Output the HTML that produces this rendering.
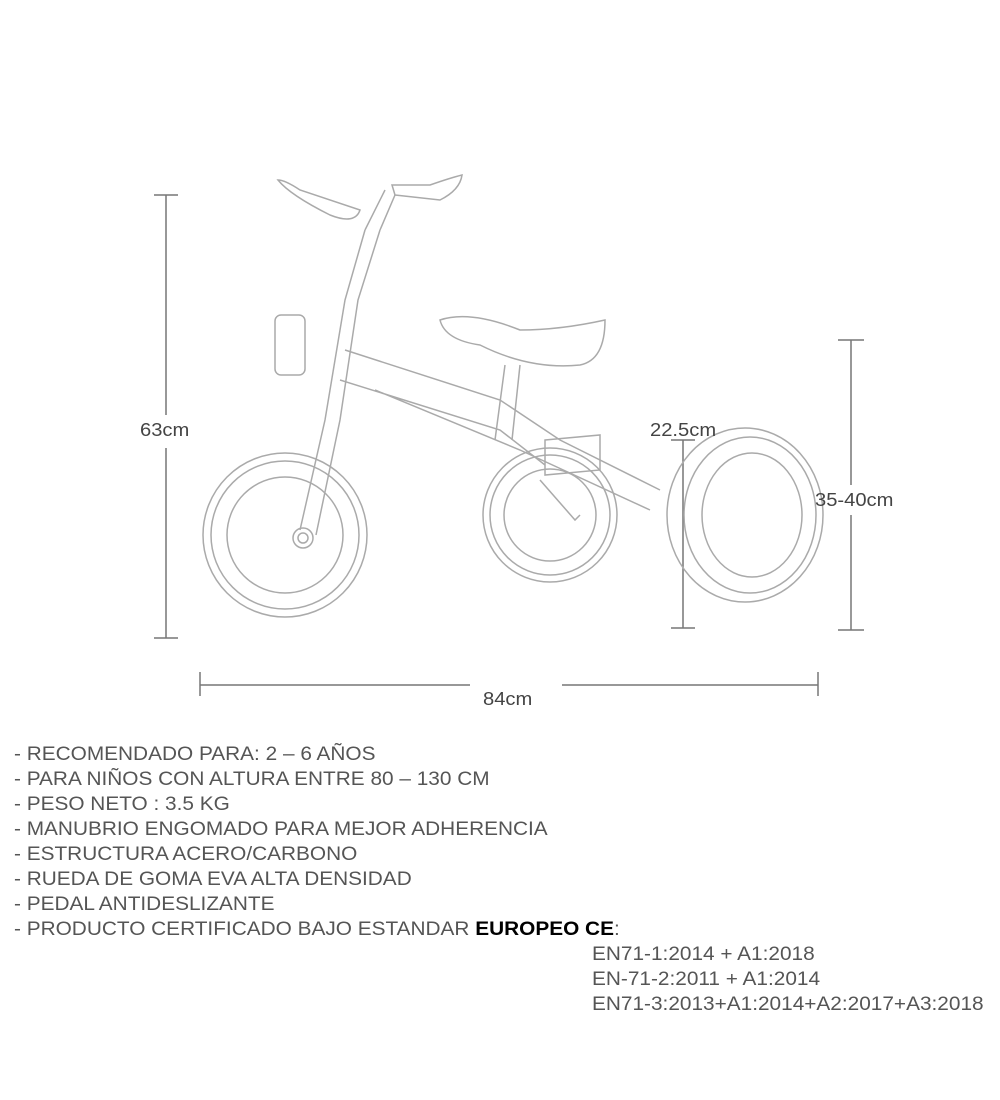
<!DOCTYPE html>
<html><head><meta charset="utf-8"><style>
html,body{margin:0;padding:0;background:#fff;}
body{width:1000px;height:1100px;position:relative;overflow:hidden;font-family:"Liberation Sans",sans-serif;color:#555;}
.t{position:absolute;font-size:19px;white-space:nowrap;line-height:20px;transform:scaleX(1.095);transform-origin:0 0;}
.d{position:absolute;font-size:18px;color:#444;white-space:nowrap;transform:scaleX(1.12);transform-origin:0 0;}
</style></head><body>
<svg width="1000" height="1100" style="position:absolute;left:0;top:0" fill="none" stroke="#999" stroke-width="1.5">
<g stroke="#777">
<line x1="166" y1="195" x2="166" y2="415"/><line x1="166" y1="448" x2="166" y2="638"/>
<line x1="154" y1="195" x2="178" y2="195"/><line x1="154" y1="638" x2="178" y2="638"/>
<line x1="200" y1="685" x2="470" y2="685"/><line x1="562" y1="685" x2="818" y2="685"/>
<line x1="200" y1="672" x2="200" y2="696"/><line x1="818" y1="672" x2="818" y2="696"/>
<line x1="851" y1="340" x2="851" y2="485"/><line x1="851" y1="515" x2="851" y2="630"/>
<line x1="838" y1="340" x2="864" y2="340"/><line x1="838" y1="630" x2="864" y2="630"/>
<line x1="683" y1="440" x2="683" y2="628"/><line x1="671" y1="440" x2="695" y2="440"/><line x1="671" y1="628" x2="695" y2="628"/>
</g>
<g stroke="#aaa">
<circle cx="285" cy="535" r="82"/><circle cx="285" cy="535" r="74"/><circle cx="285" cy="535" r="58"/>
<circle cx="303" cy="538" r="10"/><circle cx="303" cy="538" r="5"/>
<circle cx="550" cy="515" r="67"/><circle cx="550" cy="515" r="60"/><circle cx="550" cy="515" r="46"/>
<ellipse cx="745" cy="515" rx="78" ry="87"/><ellipse cx="750" cy="515" rx="66" ry="78"/><ellipse cx="752" cy="515" rx="50" ry="62"/>
<path d="M300 530 L325 420 L345 300 L365 230 M316 535 L340 420 L358 300 L380 230"/>
<path d="M365 230 L385 190 M380 230 L395 195"/>
<path d="M278 180 Q290 195 330 215 Q355 225 360 210 Q345 205 300 190 Q285 180 278 180Z"/>
<path d="M395 195 L440 200 Q460 190 462 175 Q450 178 430 185 L392 185Z"/>
<path d="M340 380 L500 430 L545 465 M345 350 L500 400 L560 440 L660 490 M375 390 L520 450 L650 510"/>
<rect x="275" y="315" width="30" height="60" rx="6"/>
<path d="M440 320 Q470 310 520 330 Q560 330 605 320 Q605 360 580 365 Q530 370 480 345 Q445 340 440 320Z"/>
<path d="M505 365 L495 440 M520 365 L512 440"/>
<path d="M545 440 L600 435 L600 470 L545 475Z"/>
<path d="M540 480 L575 520 L580 515"/>
</g>
</svg>
<div class="d" style="left:140px;top:420px">63cm</div>
<div class="d" style="left:650px;top:420px">22.5cm</div>
<div class="d" style="left:815px;top:490px">35-40cm</div>
<div class="d" style="left:483px;top:689px">84cm</div>
<div class="t" style="left:14px;top:745px">- RECOMENDADO PARA: 2 – 6 AÑOS</div>
<div class="t" style="left:14px;top:770px">- PARA NIÑOS CON ALTURA ENTRE 80 – 130 CM</div>
<div class="t" style="left:14px;top:795px">- PESO NETO : 3.5 KG</div>
<div class="t" style="left:14px;top:820px">- MANUBRIO ENGOMADO PARA MEJOR ADHERENCIA</div>
<div class="t" style="left:14px;top:845px">- ESTRUCTURA ACERO/CARBONO</div>
<div class="t" style="left:14px;top:870px">- RUEDA DE GOMA EVA ALTA DENSIDAD</div>
<div class="t" style="left:14px;top:895px">- PEDAL ANTIDESLIZANTE</div>
<div class="t" style="left:14px;top:920px">- PRODUCTO CERTIFICADO BAJO ESTANDAR <b style="color:#000">EUROPEO CE</b>:</div>
<div class="t" style="left:592px;top:945px">EN71-1:2014 + A1:2018</div>
<div class="t" style="left:592px;top:970px">EN-71-2:2011 + A1:2014</div>
<div class="t" style="left:592px;top:995px">EN71-3:2013+A1:2014+A2:2017+A3:2018</div>
</body></html>
